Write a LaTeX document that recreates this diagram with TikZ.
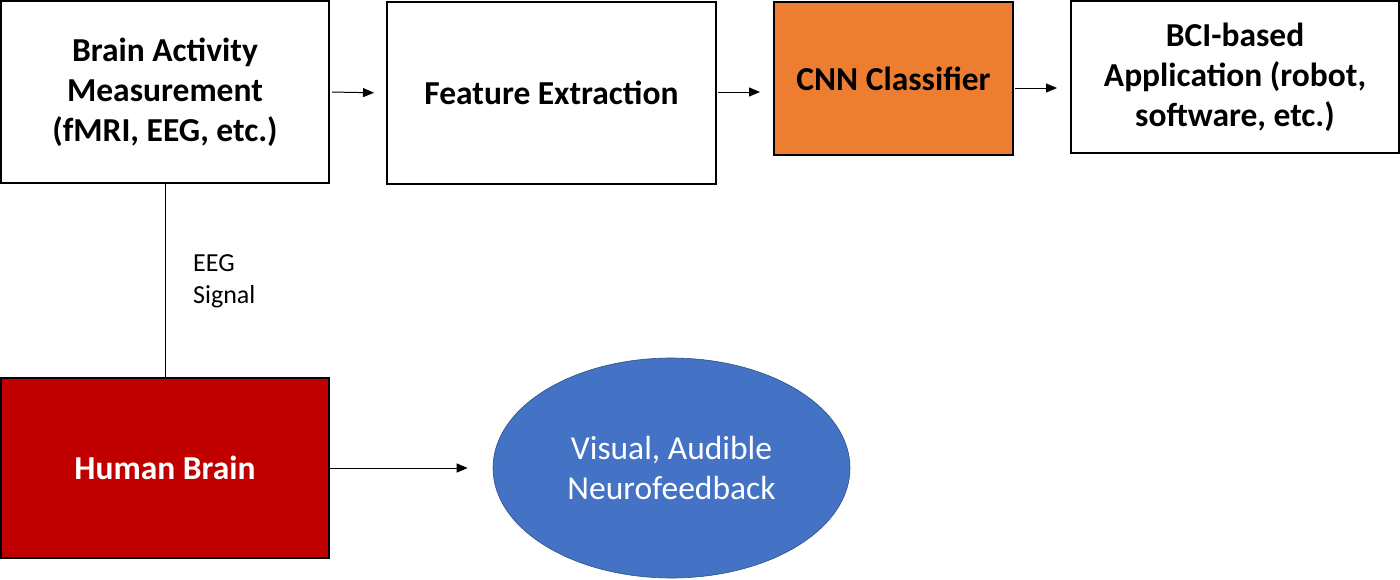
\documentclass[tikz,border=0pt]{standalone}
\usepackage{fontspec}
\setmainfont{Carlito}
\usetikzlibrary{shapes.geometric,arrows.meta}
\definecolor{cnnorange}{HTML}{ED7D31}
\definecolor{brainred}{HTML}{C00000}
\definecolor{fbblue}{HTML}{4472C4}
\tikzset{
  box/.style={draw=black, line width=2pt, rectangle, inner sep=0pt, align=center,
    font=\fontsize{33.5}{40}\selectfont\bfseries},
  arr/.style={line width=1pt, -{Triangle[length=11pt,width=9pt]}},
  link/.style={line width=1pt},
}
\begin{document}
\begin{tikzpicture}[x=1pt,y=-1pt]
\useasboundingbox (0,0) rectangle (1400,579);
\fill[white] (0,0) rectangle (1400,579);
\node[box, minimum width=328pt, minimum height=182pt] (A) at (165,92)
  {Brain Activity\\Measurement\\(fMRI, EEG, etc.)};
\node[box, minimum width=329pt, minimum height=182pt] (B) at (551.5,93)
  {Feature Extraction};
\node[box, fill=cnnorange, minimum width=239pt, minimum height=153pt] (C) at (893.5,78.5)
  {CNN Classifier};
\node[box, minimum width=328pt, minimum height=152pt] (D) at (1235,77)
  {BCI-based\\Application (robot,\\software, etc.)};
\node[box, fill=brainred, text=white, minimum width=328pt, minimum height=180pt] (H) at (165,468)
  {Human Brain};
\node[ellipse, fill=fbblue, draw=fbblue!70!black, line width=0.6pt, inner sep=0pt,
  minimum width=357pt, minimum height=220pt, text=white, align=center,
  font=\fontsize{33.5}{40}\selectfont] (E) at (671.5,468)
  {Visual, Audible\\Neurofeedback};
\node[anchor=west, align=left, inner sep=0pt, font=\fontsize{26}{32}\selectfont] (L) at (193,281)
  {EEG\\Signal};
\draw[arr, shorten <=2pt, shorten >=12pt] (A.east) -- (B.west);
\draw[arr, shorten <=1pt, shorten >=13pt] ([yshift=1pt]B.east) -- ([yshift=1pt]B.east -| C.west);
\draw[arr, shorten <=1pt, shorten >=13pt] ([yshift=-9.5pt]C.east) -- ([yshift=-9.5pt]C.east -| D.west);
\draw[link] (A.south) -- (H.north);
\draw[arr, shorten >=25pt] (H.east) -- (E.west);
\end{tikzpicture}
\end{document}
